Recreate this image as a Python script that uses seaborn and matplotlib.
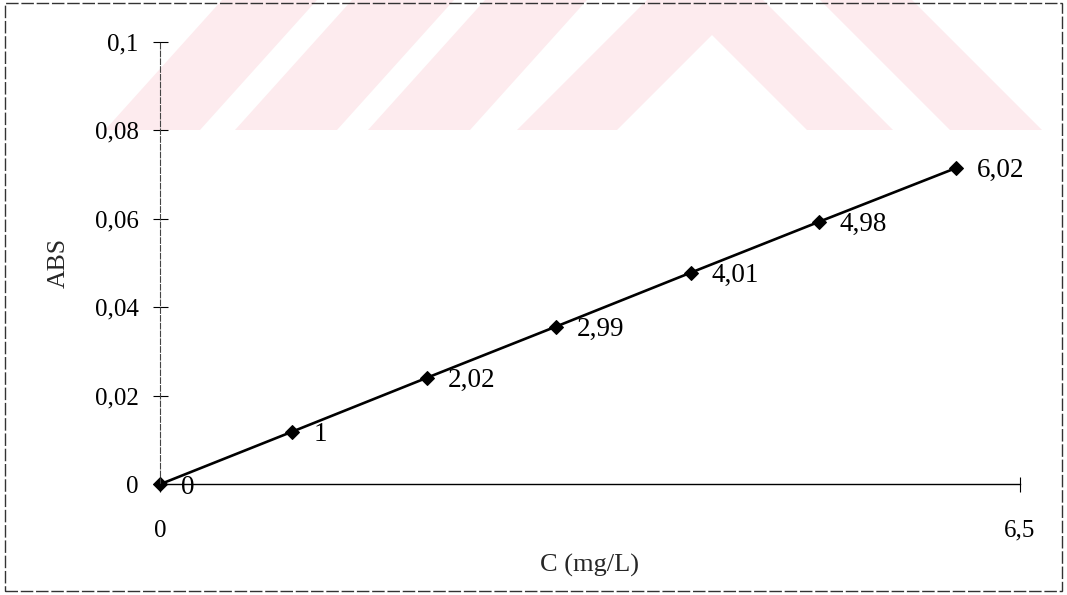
import numpy as np
import pandas as pd
import matplotlib
matplotlib.use("Agg")
import matplotlib.pyplot as plt
from matplotlib.patches import Polygon, Rectangle
import seaborn as sns

# Calibration data: concentration (mg/L) vs absorbance
conc = [0, 1, 2.02, 2.99, 4.01, 4.98, 6.02]
absorb = [0, 0.0119, 0.0241, 0.0356, 0.0478, 0.0593, 0.0715]
y_ticks = [0, 0.02, 0.04, 0.06, 0.08, 0.1]
y_tick_labels = ["0", "0,02", "0,04", "0,06", "0,08", "0,1"]
x_ticks = [0, 6.5]
x_tick_labels = ["0", "6,5"]

df = pd.DataFrame({"C": conc, "ABS": absorb})

sns.set_theme(style="white")
plt.rcParams["font.family"] = ["Liberation Serif", "DejaVu Serif"]

W, H = 1067, 595
fig = plt.figure(figsize=(W / 100, H / 100), dpi=100)
fig.patch.set_facecolor("white")


def px(x, y):
    """Pixel position (origin top-left) to figure fraction."""
    return (x / W, 1 - y / H)


# pale banner shapes behind the plot
band_color = "#fdebee"
bands = [
    [(105, 130), (200, 130), (317, 0), (222, 0)],
    [(235, 130), (337, 130), (454, 0), (352, 0)],
    [(368, 130), (470, 130), (587, 0), (485, 0)],
    [(517, 130), (617, 130), (712, 35), (807, 130), (893, 130), (763, 0), (647, 0)],
    [(950, 130), (1042, 130), (912, 0), (820, 0)],
]
for pts in bands:
    fig.patches.append(Polygon([px(*p) for p in pts], closed=True,
                               transform=fig.transFigure, facecolor=band_color,
                               edgecolor="none", zorder=-2))

# outer frame
fig.patches.append(Rectangle(px(5, 591), 1057 / W, 588 / H, transform=fig.transFigure,
                             fill=False, edgecolor="#333333", linewidth=1.0,
                             linestyle=(0, (9, 2)), zorder=1))

left, right = 160 / W, 1020 / W
bottom, top = 1 - 484.3 / H, 1 - 41.7 / H
ax = fig.add_axes([left, bottom, right - left, top - bottom])
ax.set_facecolor("none")
ax.set_zorder(2)

sns.lineplot(data=df, x="C", y="ABS", ax=ax, color="black", linewidth=1.9,
             marker="D", markersize=7, markeredgecolor="black",
             markerfacecolor="black", clip_on=False)

for xv, yv in zip(conc, absorb):
    label = f"{xv:g}".replace(".", ",")
    ax.annotate(label, (xv, yv), xytext=(15, -2), textcoords="offset points",
                ha="left", va="center", fontsize=19.5, color="black")

ax.set_xlim(0, 6.5)
ax.set_ylim(0, 0.1)
ax.set_xticks(x_ticks)
ax.set_xticklabels(x_tick_labels)
ax.set_yticks(y_ticks)
ax.set_yticklabels(y_tick_labels)
ax.tick_params(axis="both", direction="inout", length=10.8, width=0.8,
               colors="black", labelsize=18, bottom=True, left=True)
ax.tick_params(axis="y", pad=10)
ax.tick_params(axis="x", pad=20)

for side in ("top", "right"):
    ax.spines[side].set_visible(False)
ax.spines["left"].set_color("#444444")
ax.spines["left"].set_linewidth(0.8)
ax.spines["left"].set_linestyle((0, (5, 2)))
ax.spines["bottom"].set_color("black")
ax.spines["bottom"].set_linewidth(1.0)

ax.set_xlabel("C (mg/L)", fontsize=19)
ax.set_ylabel("ABS", fontsize=18.5)
ax.xaxis.label.set_va("center")
ax.yaxis.label.set_va("center")
ax.xaxis.set_label_coords(0.5, (484.3 - 565) / 442.6)
ax.yaxis.set_label_coords((59 - 160) / 860, 0.5)

fig.savefig("out.png", dpi=100, facecolor="white")
